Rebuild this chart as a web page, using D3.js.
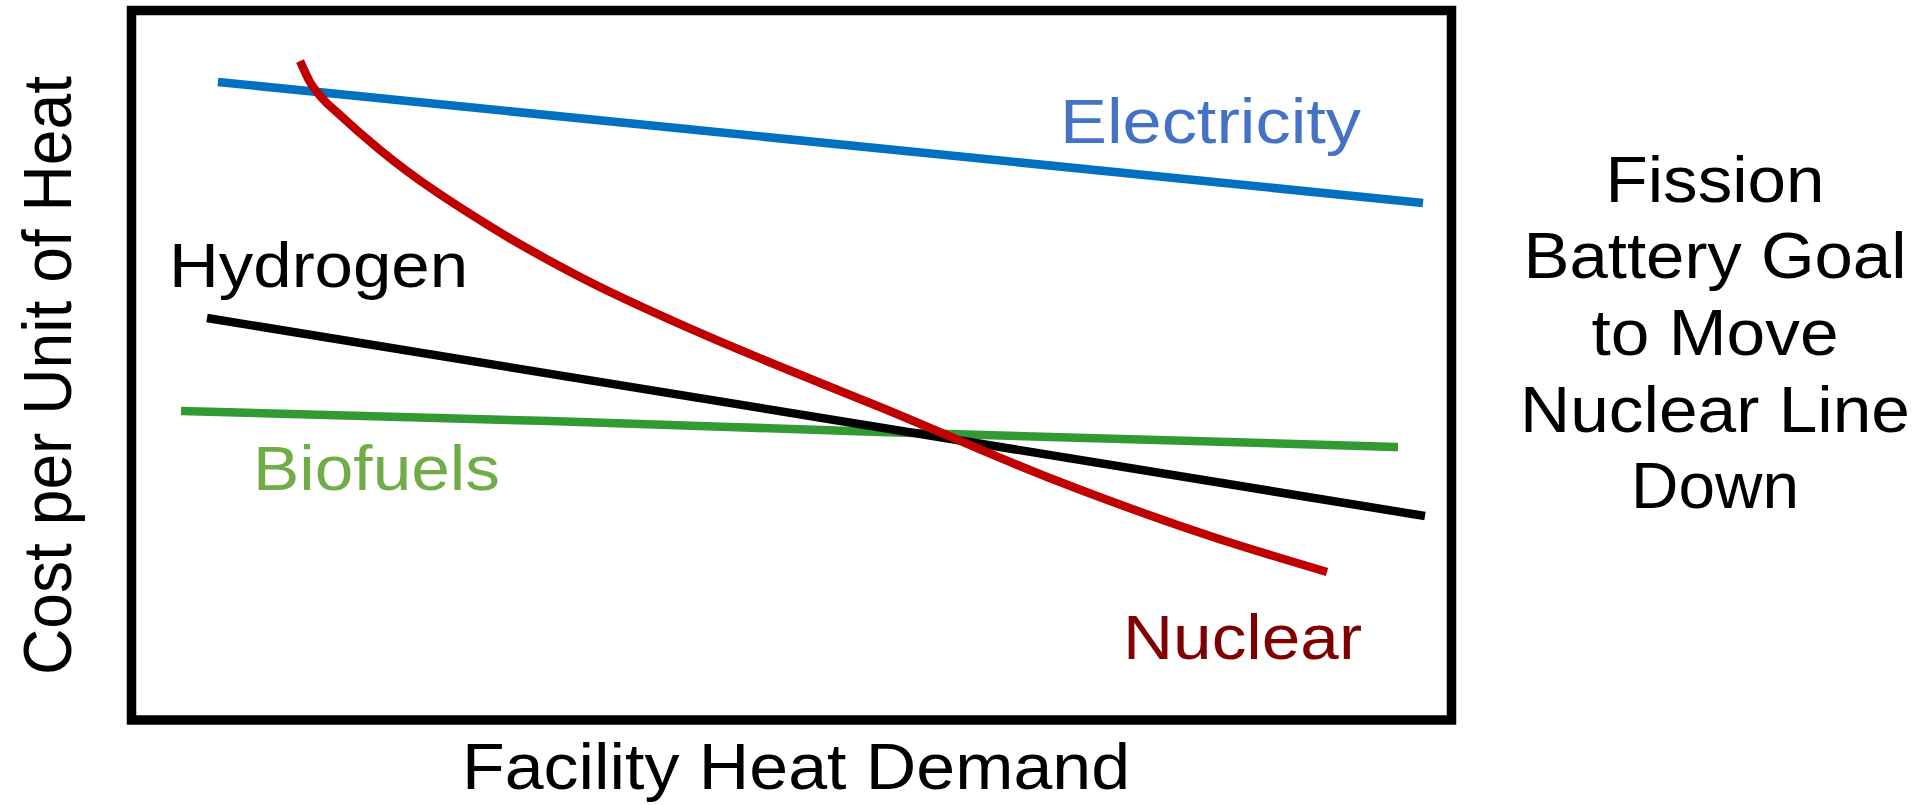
<!DOCTYPE html>
<html>
<head>
<meta charset="utf-8">
<script src="https://cdn.jsdelivr.net/npm/d3@7"></script>
<style>
  html, body { margin: 0; padding: 0; background: #fff; }
  svg { display: block; font-family: "Liberation Sans", Arial, sans-serif; }
</style>
</head>
<body>
<svg id="chart" width="1932" height="805"></svg>
<script>
// ---- data (arbitrary units: demand 0-100, cost 0-100) ----
const seriesNames = ["Electricity", "Hydrogen", "Biofuels", "Nuclear"];
const electricityX = [6.55, 97.84];
const electricityY = [89.92, 72.87];
const hydrogenX = [5.72, 97.99];
const hydrogenY = [56.66, 28.75];
const biofuelsX = [3.75, 31.70, 56.70, 95.95];
const biofuelsY = [43.55, 42.14, 40.59, 38.48];
const nuclearX = [12.77, 13.52, 14.43, 15.80, 18.83, 27.23, 33.98, 43.07, 52.01, 56.70, 69.36, 81.93, 90.57];
const nuclearY = [92.88, 89.92, 87.67, 85.27, 80.34, 69.49, 62.44, 54.55, 47.64, 44.12, 34.25, 25.79, 20.86];
const xTitle = "Facility Heat Demand";
const yTitle = "Cost per Unit of Heat";
const noteLines = ["Fission", "Battery Goal", "to Move", "Nuclear Line", "Down"];

// ---- layout ----
const svg = d3.select("#chart");
const frame = { left: 131.5, top: 10.5, right: 1451.5, bottom: 720 };
const x = d3.scaleLinear().domain([0, 100]).range([frame.left, frame.right]);
const y = d3.scaleLinear().domain([0, 100]).range([frame.bottom, frame.top]);

svg.append("rect").attr("width", 1932).attr("height", 805).attr("fill", "#fff");

const series = [
  { name: seriesNames[0], xs: electricityX, ys: electricityY, color: "#0070C0", curve: d3.curveLinear },
  { name: seriesNames[1], xs: hydrogenX, ys: hydrogenY, color: "#000000", curve: d3.curveLinear },
  { name: seriesNames[2], xs: biofuelsX, ys: biofuelsY, color: "#339933", curve: d3.curveMonotoneX },
  { name: seriesNames[3], xs: nuclearX, ys: nuclearY, color: "#C00000", curve: d3.curveMonotoneX }
];

// draw order: biofuels, hydrogen, electricity, nuclear
const order = [2, 1, 0, 3];
order.forEach(i => {
  const s = series[i];
  const pts = s.xs.map((v, k) => [v, s.ys[k]]);
  const line = d3.line().x(d => x(d[0])).y(d => y(d[1])).curve(s.curve);
  svg.append("path")
    .attr("d", line(pts))
    .attr("fill", "none")
    .attr("stroke", s.color)
    .attr("stroke-width", 8.5)
    .attr("stroke-linecap", "butt");
});

// frame
svg.append("rect")
  .attr("x", frame.left).attr("y", frame.top)
  .attr("width", frame.right - frame.left).attr("height", frame.bottom - frame.top)
  .attr("fill", "none").attr("stroke", "#000").attr("stroke-width", 9.5);

// series labels
const labelStyle = [
  { name: seriesNames[0], x: 1060, y: 143, w: 301, color: "#4472C4" },
  { name: seriesNames[1], x: 169, y: 287, w: 299, color: "#000000" },
  { name: seriesNames[2], x: 253, y: 490, w: 247, color: "#70AD47" },
  { name: seriesNames[3], x: 1123, y: 659, w: 239, color: "#7F0000" }
];
labelStyle.forEach(l => {
  svg.append("text")
    .attr("x", l.x).attr("y", l.y)
    .attr("font-size", 63)
    .attr("fill", l.color)
    .attr("textLength", l.w)
    .attr("lengthAdjust", "spacingAndGlyphs")
    .text(l.name);
});

// axis titles
svg.append("text")
  .attr("x", 796).attr("y", 789)
  .attr("text-anchor", "middle")
  .attr("font-size", 64)
  .attr("textLength", 668)
  .attr("lengthAdjust", "spacingAndGlyphs")
  .attr("fill", "#000")
  .text(xTitle);

svg.append("text")
  .attr("transform", "translate(71,375.5) rotate(-90)")
  .attr("text-anchor", "middle")
  .attr("font-size", 69)
  .attr("textLength", 599)
  .attr("lengthAdjust", "spacingAndGlyphs")
  .attr("fill", "#000")
  .text(yTitle);

// side note
const noteBase = [202, 278, 355, 432, 508];
const noteWidths = [219, 383, 247, 390, 168];
noteLines.forEach((t, i) => {
  svg.append("text")
    .attr("x", 1715).attr("y", noteBase[i])
    .attr("text-anchor", "middle")
    .attr("font-size", 65)
    .attr("textLength", noteWidths[i])
    .attr("lengthAdjust", "spacingAndGlyphs")
    .attr("fill", "#000")
    .text(t);
});
</script>
</body>
</html>
